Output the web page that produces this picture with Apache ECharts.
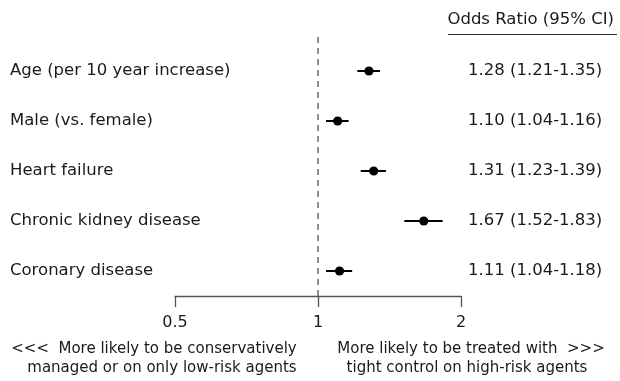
<!DOCTYPE html>
<html>
<head>
<meta charset="utf-8">
<script src="https://cdn.jsdelivr.net/npm/echarts@6/dist/echarts.min.js"></script>
<style>
html,body{margin:0;padding:0;background:#fff;}
#chart{width:620px;height:381px;}
</style>
</head>
<body>
<div id="chart"></div>
<script>
const categories = ['Age (per 10 year increase)', 'Male (vs. female)', 'Heart failure', 'Chronic kidney disease', 'Coronary disease'];
const oddsRatio = [1.28, 1.10, 1.31, 1.67, 1.11];
const ciLow = [1.21, 1.04, 1.23, 1.52, 1.04];
const ciHigh = [1.35, 1.16, 1.39, 1.83, 1.18];
const ciLabels = ['1.28 (1.21-1.35)', '1.10 (1.04-1.16)', '1.31 (1.23-1.39)', '1.67 (1.52-1.83)', '1.11 (1.04-1.18)'];
const xTicks = [0.5, 1, 2];
const headerText = 'Odds Ratio (95% CI)';
const leftNote = ['<<<  More likely to be conservatively', 'managed or on only low-risk agents'];
const rightNote = ['More likely to be treated with  >>>', 'tight control on high-risk agents'];

const FONT = 'DejaVu Sans';
const TXT = '#1a1a1a';

const chart = echarts.init(document.getElementById('chart'), null, {renderer: 'canvas'});

const ciData = categories.map((c, i) => [oddsRatio[i], ciLow[i], ciHigh[i], i]);

const option = {
  backgroundColor: '#ffffff',
  animation: false,
  grid: {left: 175, right: 159, top: 46, bottom: 85},
  xAxis: {
    type: 'log',
    logBase: 2,
    min: xTicks[0],
    max: xTicks[xTicks.length - 1],
    axisLine: {show: true, lineStyle: {color: '#555', width: 1.3}},
    axisTick: {show: true, inside: false, length: 11, lineStyle: {color: '#555', width: 1.3}},
    axisLabel: {
      margin: 19,
      fontFamily: FONT, fontSize: 16, color: TXT,
      formatter: v => String(+v.toFixed(2))
    },
    splitLine: {show: false},
    minorTick: {show: false}
  },
  yAxis: [
    {
      type: 'category',
      data: categories,
      inverse: true,
      axisLine: {show: false},
      axisTick: {show: false},
      splitLine: {show: false},
      axisLabel: {
        align: 'left', margin: 165,
        fontFamily: FONT, fontSize: 16.5, color: TXT,
        padding: [3, 0, 0, 0]
      }
    },
    {
      type: 'category',
      data: ciLabels,
      inverse: true,
      position: 'right',
      axisLine: {show: false},
      axisTick: {show: false},
      splitLine: {show: false},
      axisLabel: {
        align: 'left', margin: 7,
        fontFamily: FONT, fontSize: 16.5, color: TXT,
        padding: [3, 0, 0, 0]
      }
    }
  ],
  series: [
    {
      type: 'custom',
      name: 'ref',
      xAxisIndex: 0, yAxisIndex: 0,
      data: [[1, 0]],
      encode: {x: 0, y: 1},
      z: 1,
      renderItem: function (params, api) {
        const p = api.coord([api.value(0), api.value(1)]);
        const cs = params.coordSys;
        return {
          type: 'line',
          shape: {x1: p[0], y1: p[1] - 34, x2: p[0], y2: cs.y + cs.height},
          style: {stroke: '#444', lineWidth: 1.2, lineDash: [6, 5]}
        };
      }
    },
    {
      type: 'custom',
      name: 'OR',
      xAxisIndex: 0, yAxisIndex: 0,
      data: ciData,
      encode: {x: [0, 1, 2], y: 3},
      z: 5,
      renderItem: function (params, api) {
        const yi = api.value(3);
        const c = api.coord([api.value(0), yi]);
        const lo = api.coord([api.value(1), yi]);
        const hi = api.coord([api.value(2), yi]);
        return {
          type: 'group',
          children: [
            {type: 'line', shape: {x1: lo[0], y1: lo[1], x2: hi[0], y2: hi[1]},
             style: {stroke: '#000', lineWidth: 2, lineCap: 'butt'}},
            {type: 'circle', shape: {cx: c[0], cy: c[1], r: 4.6},
             style: {fill: '#000'}}
          ]
        };
      }
    }
  ],
  graphic: [
    {type: 'text', x: 614, y: 20, style: {text: headerText, fontFamily: FONT, fontSize: 16.5, fill: TXT, align: 'right', verticalAlign: 'middle'}},
    {type: 'line', shape: {x1: 448, y1: 34.5, x2: 617, y2: 34.5}, style: {stroke: '#333', lineWidth: 1}},
    {type: 'text', x: 154, y: 349, style: {text: leftNote[0], fontFamily: FONT, fontSize: 15, fill: TXT, align: 'center', verticalAlign: 'middle'}},
    {type: 'text', x: 162, y: 368, style: {text: leftNote[1], fontFamily: FONT, fontSize: 15, fill: TXT, align: 'center', verticalAlign: 'middle'}},
    {type: 'text', x: 471, y: 349, style: {text: rightNote[0], fontFamily: FONT, fontSize: 15, fill: TXT, align: 'center', verticalAlign: 'middle'}},
    {type: 'text', x: 467, y: 368, style: {text: rightNote[1], fontFamily: FONT, fontSize: 15, fill: TXT, align: 'center', verticalAlign: 'middle'}}
  ]
};

chart.setOption(option);
</script>
</body>
</html>
